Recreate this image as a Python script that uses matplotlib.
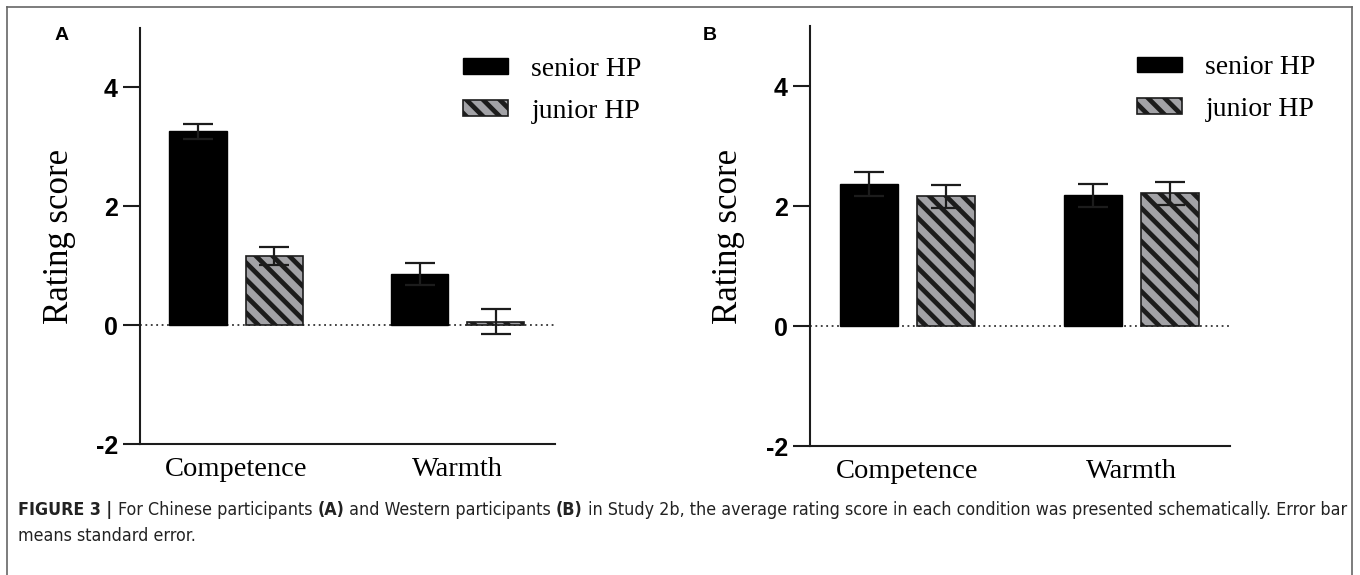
import matplotlib
matplotlib.use("Agg")
import matplotlib.pyplot as plt
import numpy as np
from matplotlib.patches import Patch
from matplotlib.lines import Line2D

# データ
categories = ["Competence", "Warmth"]
series_names = ["senior HP", "junior HP"]

# (A) 中国人参加者
a_senior = [3.26, 0.86]
a_senior_se = [0.12, 0.19]
a_junior = [1.17, 0.06]
a_junior_se = [0.15, 0.21]

# (B) 西洋人参加者
b_senior = [2.36, 2.18]
b_senior_se = [0.20, 0.19]
b_junior = [2.16, 2.21]
b_junior_se = [0.19, 0.19]

yticks = [-2, 0, 2, 4]

caption_1 = [("FIGURE 3 | ", "bold"), ("For Chinese participants ", "normal"), ("(A)", "bold"),
	(" and Western participants ", "normal"), ("(B)", "bold"),
	(" in Study 2b, the average rating score in each condition was presented schematically. Error bar", "normal")]
caption_2 = "means standard error."

GRAY = "#a2a2a6"
DARK = "#1c1c1c"
SERIF = "Liberation Serif"
SANS = "Liberation Sans"
HATCH = "\\\\"

plt.rcParams["hatch.linewidth"] = 3.4

fig = plt.figure(figsize=(13.6, 5.75), dpi=100)

def panel(rect, senior, senior_se, junior, junior_se, letter, letter_x):
	ax = fig.add_axes(rect)
	x = np.arange(len(categories))
	w = 0.26
	off = 0.172
	# 0の点線
	ax.axhline(0, color="#333333", lw=1.3, linestyle=(0, (1, 2)), zorder=1)
	ax.bar(x - off, senior, w, color="black", edgecolor="black", lw=1, zorder=2)
	ax.bar(x + off, junior, w, color=GRAY, edgecolor=DARK, lw=1.2, hatch=HATCH, zorder=2)
	ax.errorbar(x - off, senior, yerr=senior_se, fmt="none", ecolor=DARK, elinewidth=1.6,
		capsize=10.5, capthick=1.6, zorder=3)
	ax.errorbar(x + off, junior, yerr=junior_se, fmt="none", ecolor=DARK, elinewidth=1.6,
		capsize=10.5, capthick=1.6, zorder=3)

	ax.set_xlim(-0.435, 1.44)
	ax.set_ylim(-2, 5)
	ax.set_yticks(yticks)
	ax.set_yticklabels([str(v) for v in yticks], fontfamily=SANS, fontweight="bold", fontsize=18)
	ax.set_xticks(x)
	ax.set_xticklabels(categories, fontfamily=SERIF, fontsize=20.5)
	ax.tick_params(axis="y", length=12, width=1.5, pad=4, color=DARK)
	ax.tick_params(axis="x", length=0, pad=9)
	for s in ["top", "right"]:
		ax.spines[s].set_visible(False)
	for s in ["left", "bottom"]:
		ax.spines[s].set_linewidth(1.5)
		ax.spines[s].set_color(DARK)

	ax.set_ylabel("Rating score", fontfamily=SERIF, fontsize=25)
	ax.yaxis.set_label_coords(-0.155, 0.5)

	handles = [Patch(facecolor="black", edgecolor="black"),
		Patch(facecolor=GRAY, edgecolor=DARK, hatch=HATCH, lw=1.2)]
	ax.legend(handles, series_names, loc="upper left", bbox_to_anchor=(0.778, 0.93),
		frameon=False, prop={"family": SERIF, "size": 20}, handlelength=1.62,
		handleheight=0.5, handletextpad=0.85, labelspacing=0.6, borderpad=0, borderaxespad=0)

	fig.text(letter_x, 1 - 36 / 575, letter, fontfamily=SANS, fontweight="bold",
		fontsize=14, va="center", ha="left")
	return ax

ax_a = panel([140 / 1360, 131 / 575, 415 / 1360, 416 / 575],
	a_senior, a_senior_se, a_junior, a_junior_se, "A", 55 / 1360)
ax_b = panel([810 / 1360, 129 / 575, 420 / 1360, 420 / 575],
	b_senior, b_senior_se, b_junior, b_junior_se, "B", 703 / 1360)

# 外枠
for xs, ys in [([7, 7], [-5, 568]), ([7, 1352], [568, 568]), ([1352, 1352], [568, -5])]:
	fig.add_artist(Line2D([v / 1360 for v in xs], [v / 575 for v in ys], color="#666666", lw=1.2))

# キャプション（太字まじり）。1行目が 18px〜1345px に収まるよう文字サイズを合わせる
CAP = "DejaVu Sans"
renderer = fig.canvas.get_renderer()

def caption_line(size, draw):
	cx = 18
	made = []
	for s, wgt in caption_1:
		t = fig.text(cx / 1360, 1 - 510 / 575, s, fontfamily=CAP, fontstretch="condensed",
			fontweight=wgt, fontsize=size, va="center", color="#222222")
		bb = t.get_window_extent(renderer=renderer)
		cx = cx + bb.width
		made.append(t)
	if not draw:
		for t in made:
			t.remove()
	return cx - 18

size = 12.0
width = caption_line(size, False)
size = size * 1327 / width
caption_line(size, True)
fig.text(18 / 1360, 1 - 536 / 575, caption_2, fontfamily=CAP, fontstretch="condensed",
	fontsize=size, va="center", color="#222222")

fig.savefig("out.png", dpi=100)
